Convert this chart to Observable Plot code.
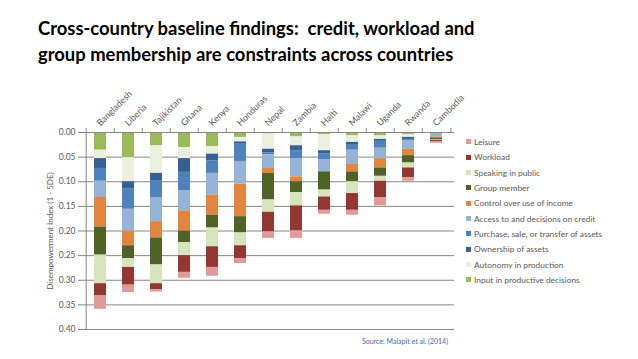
<!DOCTYPE html>
<html><head><meta charset="utf-8">
<script src="https://cdn.jsdelivr.net/npm/d3@7"></script>
<script src="https://cdn.jsdelivr.net/npm/@observablehq/plot@0.6"></script>
<style>
body{margin:0;background:#fff;}
#wrap{position:relative;width:638px;height:359px;overflow:hidden;font-family:Lato, sans-serif;background:#fff;}
#title{position:absolute;left:38px;top:15px;font-weight:bold;font-size:18.4px;line-height:26px;color:#000;white-space:nowrap;}
#chart{position:absolute;left:0;top:80px;}
#legend{position:absolute;left:466px;top:134.3px;font-size:8.4px;color:#595959;}
.item{height:15.33px;display:flex;align-items:center;white-space:nowrap;}
.sw{width:5px;height:5px;margin-right:3px;flex:none;}
#source{position:absolute;left:362px;top:337px;font-size:7px;color:#4a69a8;white-space:nowrap;}
</style>
</head><body>
<div id="wrap">
  <div id="title">Cross-country baseline findings:&nbsp; credit, workload and<br>group membership are constraints across countries</div>
  <div id="chart"></div>
  <div id="legend"></div>
  <div id="source">Source: Malapit et al. (2014)</div>
</div>
<script>
const countries = ["Bangladesh","Liberia","Tajikistan","Ghana","Kenya","Honduras","Nepal","Zambia","Haiti","Malawi","Uganda","Rwanda","Cambodia"];

const input     = [0.036,0.051,0.027,0.031,0.029,0.010,0.003,0.009,0.004,0.007,0.007,0.004,0.000];
const autonomy  = [0.017,0.049,0.056,0.022,0.015,0.009,0.031,0.018,0.033,0.013,0.007,0.006,0.000];
const ownership = [0.020,0.014,0.016,0.028,0.014,0.005,0.007,0.010,0.006,0.006,0.004,0.004,0.000];
const purchase  = [0.026,0.042,0.033,0.037,0.025,0.036,0.004,0.017,0.013,0.010,0.014,0.003,0.001];
const credit    = [0.033,0.044,0.049,0.041,0.044,0.045,0.028,0.036,0.024,0.029,0.021,0.017,0.008];
const income    = [0.060,0.030,0.033,0.041,0.041,0.066,0.010,0.010,0.000,0.015,0.019,0.013,0.002];
const group     = [0.057,0.026,0.055,0.024,0.026,0.033,0.054,0.022,0.037,0.020,0.017,0.015,0.004];
const speaking  = [0.058,0.018,0.038,0.026,0.038,0.026,0.025,0.027,0.014,0.024,0.010,0.010,0.001];
const workload  = [0.025,0.036,0.012,0.034,0.042,0.026,0.040,0.051,0.027,0.034,0.033,0.020,0.003];
const leisure   = [0.027,0.015,0.005,0.012,0.018,0.010,0.013,0.015,0.008,0.010,0.017,0.007,0.003];

// stacking order from the top (0) downward
const components = ["Input in productive decisions","Autonomy in production","Ownership of assets","Purchase, sale, or transfer of assets","Access to and decisions on credit","Control over use of income","Group member","Speaking in public","Workload","Leisure"];
const seriesValues = [input, autonomy, ownership, purchase, credit, income, group, speaking, workload, leisure];
const colors = ["#9bbb59","#ebf1de","#376092","#4f81bd","#95b3d7","#e3843f","#4f6228","#d7e4bd","#943634","#e09a9a"];
const yTicks = [0,0.05,0.10,0.15,0.20,0.25,0.30,0.35,0.40];
const yLabel = "Disempowerment Index (1 - 5DE)";

const data = [];
components.forEach((c, i) => countries.forEach((k, j) => data.push({country: k, component: c, value: seriesValues[i][j]})));

const W = 638, H = 279, mL = 82, mR = 184, mT = 52, mB = 30;
const step = (W - mL - mR) / countries.length;
const gray = "#868686", txt = "#595959";

const chart = Plot.plot({
  width: W, height: H, marginTop: mT, marginBottom: mB, marginLeft: mL, marginRight: mR,
  style: {fontFamily: "Lato, sans-serif", fontSize: "8.5px", color: txt, background: "white", overflow: "visible"},
  x: {domain: countries, paddingInner: 0.58, paddingOuter: 0.29, axis: null},
  y: {domain: [0, 0.4], reverse: true, axis: null},
  color: {domain: components, range: colors},
  marks: [
    Plot.gridY(yTicks, {stroke: gray, strokeOpacity: 1, strokeWidth: 1}),
    Plot.barY(data, Plot.stackY({x: "country", y: "value", fill: "component", order: components})),
    Plot.ruleY([0], {stroke: gray}),
    Plot.ruleX([countries[0]], {dx: -step / 2, stroke: gray}),
    Plot.ruleX(countries, {dx: -step / 2, y1: 0, y2: 0, insetTop: -4, stroke: gray}),
    Plot.ruleX([countries[countries.length - 1]], {dx: step / 2, y1: 0, y2: 0, insetTop: -4, stroke: gray}),
    Plot.axisY(yTicks, {anchor: "left", tickFormat: d3.format(".2f"), tickSize: 4, tickPadding: 3, stroke: gray, fill: txt, label: null, fontSize: 8.5}),
    Plot.text(countries, {x: d => d, frameAnchor: "top", dy: -6, rotate: -45, textAnchor: "start", lineAnchor: "bottom", fontSize: 9, fill: txt}),
    Plot.text([yLabel], {frameAnchor: "left", dx: -32, rotate: -90, textAnchor: "middle", fontSize: 8, fill: txt})
  ]
});
document.getElementById("chart").appendChild(chart);

const legend = document.getElementById("legend");
[...components].reverse().forEach((c) => {
  const i = components.indexOf(c);
  const item = document.createElement("div");
  item.className = "item";
  item.innerHTML = `<span class="sw" style="background:${colors[i]}"></span><span>${c}</span>`;
  legend.appendChild(item);
});
</script>
</body></html>
